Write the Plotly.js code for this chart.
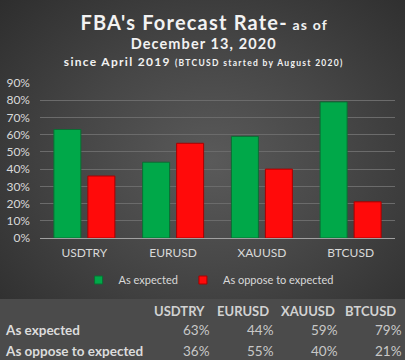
<!DOCTYPE html>
<html><head><meta charset="utf-8">
<script src="https://cdn.plot.ly/plotly-3.0.1.min.js"></script>
<style>
html,body{margin:0;padding:0;background:#2b2b2b;}
#chart{width:405px;height:360px;
background:
 linear-gradient(to bottom, rgba(0,0,0,0) 299px, #4b4b4b 299px),
 radial-gradient(ellipse 75% 70% at 52% 45%, #5a5a5a 0%, #464646 45%, #2b2b2b 100%);}
g.annotation[data-index="0"] text{letter-spacing:1.2px;}
g.annotation[data-index="1"] text{letter-spacing:1.1px;}
g.annotation[data-index="2"] text{letter-spacing:1.3px;}
</style></head>
<body><div id="chart"></div>
<script>
const categories = ['USDTRY', 'EURUSD', 'XAUUSD', 'BTCUSD'];
const seriesNames = ['As expected', 'As oppose to expected'];
const asExpected = [0.63, 0.44, 0.59, 0.79];
const asOpposed = [0.36, 0.55, 0.40, 0.21];
const yTickVals = [0, 0.1, 0.2, 0.3, 0.4, 0.5, 0.6, 0.7, 0.8, 0.9];
const colors = ['#00a849', '#ff0a0a'];
const edgeColors = ['#0a6e33', '#a80000'];

const W = 405, H = 360, L = 40, R = 10, T = 83, B = 122;
const plotW = W - L - R, plotH = H - T - B;
const px2x = p => (p - L) / plotW;
const px2y = p => (H - B - p) / plotH;
const pct = v => Math.round(v * 100) + '%';

const seriesVals = [asExpected, asOpposed];
const traces = [];
seriesVals.forEach((vals, s) => {
  traces.push({type: 'bar', name: seriesNames[s], x: categories, y: vals, showlegend: false,
    legendgroup: 'g' + s,
    marker: {color: colors[s], line: {color: edgeColors[s], width: 1}}, hoverinfo: 'none'});
});
seriesVals.forEach((vals, s) => {
  traces.push({type: 'scatter', mode: 'markers', name: seriesNames[s], x: [null], y: [null],
    legendgroup: 'g' + s, showlegend: true,
    marker: {symbol: 'square', size: 8, color: colors[s], line: {color: edgeColors[s], width: 1}}, hoverinfo: 'none'});
});

const F = 'Lato, Open Sans, sans-serif';
const ann = [];
function A(o) { ann.push(Object.assign({xref: 'paper', yref: 'paper', showarrow: false,
  xanchor: 'center', yanchor: 'middle'}, o)); }
A({text: "<b>FBA's Forecast Rate-</b><b><span style='font-size:14px'> as of</span></b>",
  x: px2x(204), y: px2y(22), font: {family: F, size: 20, color: '#f2f2f2'}});
A({text: "<b>December 13, 2020</b>", x: px2x(204), y: px2y(43),
  font: {family: F, size: 14.5, color: '#f2f2f2'}});
A({text: "<b>since April 2019 </b><b><span style='font-size:8.5px'>(BTCUSD started by August 2020)</span></b>",
  x: px2x(204), y: px2y(61), font: {family: F, size: 12, color: '#f2f2f2'}});

// table
const headX = [179, 243, 308, 370];
const valRightX = [212, 276, 340, 404];
const rowY = [330, 351];
categories.forEach((c, i) => {
  A({text: '<b>' + c + '</b>', x: px2x(headX[i]), y: px2y(311),
    font: {family: F, size: 13, color: '#d2d2d2'}});
});
seriesVals.forEach((vals, r) => {
  A({text: '<b>' + seriesNames[r] + '</b>', x: px2x(3), y: px2y(rowY[r]), xanchor: 'left',
    font: {family: F, size: 13.5, color: '#dcdcdc'}});
  vals.forEach((v, i) => {
    A({text: pct(v), x: px2x(valRightX[i]), y: px2y(rowY[r]), xanchor: 'right',
      font: {family: F, size: 13.5, color: '#c8c8c8'}});
  });
});

const layout = {
  width: W, height: H,
  margin: {l: L, r: R, t: T, b: B, pad: 0},
  paper_bgcolor: 'rgba(0,0,0,0)', plot_bgcolor: 'rgba(0,0,0,0)',
  barmode: 'group', bargap: 0.234, bargroupgap: 0.206,
  font: {family: F, color: '#d9d9d9', size: 11.5},
  xaxis: {showgrid: false, showline: true, linecolor: '#a0a0a0', linewidth: 1,
    ticks: '', tickfont: {size: 12, color: '#d9d9d9'}, ticklabelstandoff: 4, fixedrange: true},
  yaxis: {range: [0, 0.9], tickvals: yTickVals, tickformat: '.0%', showgrid: true,
    gridcolor: '#6b6b6b', gridwidth: 1, zeroline: false, showline: false, ticks: '',
    tickfont: {size: 12, color: '#d9d9d9'}, ticklabelstandoff: 9, fixedrange: true},
  showlegend: true,
  legend: {orientation: 'h', xref: 'container', x: 0.515, xanchor: 'center',
    yref: 'container', y: 1 - 280 / H, yanchor: 'middle',
    font: {size: 11, color: '#d9d9d9'}, bgcolor: 'rgba(0,0,0,0)', itemwidth: 30,
    tracegroupgap: 0, itemclick: false},
  annotations: ann
};
Plotly.newPlot('chart', traces, layout, {displayModeBar: false, staticPlot: true});
</script></body></html>
